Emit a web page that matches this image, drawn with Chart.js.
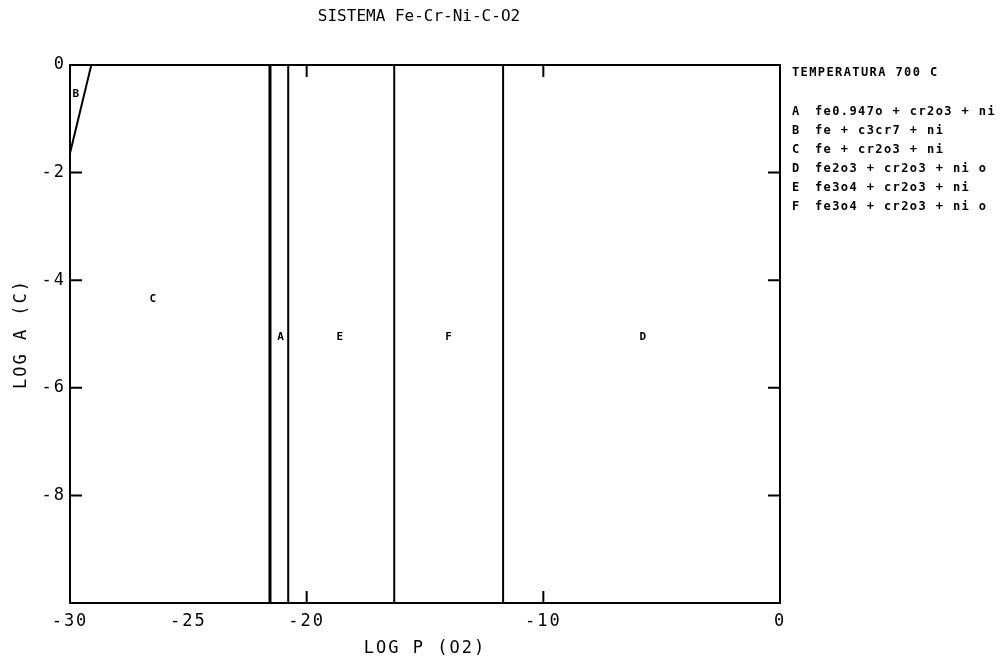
<!DOCTYPE html>
<html>
<head>
<meta charset="utf-8">
<script src="https://cdn.jsdelivr.net/npm/chart.js@4/dist/chart.umd.min.js"></script>
<style>
  body { margin: 0; background: #fff; }
  canvas { display: block; }
</style>
</head>
<body>
<canvas id="diagram" width="1002" height="664"></canvas>
<script>
// phase boundaries (log p O2), vertical lines over full height
const boundaryX = [-21.55, -20.78, -16.3, -11.7];
const boundaryWidth = [3, 2, 2, 2];
// sloped boundary of field B
const bLineX = [-29.1, -30];
const bLineY = [0, -1.64];
// field labels
const fieldNames = ['B', 'C', 'A', 'E', 'F', 'D'];
const fieldX = [-29.75, -26.5, -21.1, -18.6, -14.0, -5.8];
const fieldY = [-0.55, -4.35, -5.05, -5.05, -5.05, -5.05];
// axis ticks
const xTicks = [-30, -25, -20, -10, 0];
const yTicks = [0, -2, -4, -6, -8];
const xInward = [-20, -10];
const yInward = [-2, -4, -6, -8];
// legend
const legendTitle = 'TEMPERATURA 700 C';
const legendKeys = ['A', 'B', 'C', 'D', 'E', 'F'];
const legendTexts = [
  'fe0.947o + cr2o3 + ni',
  'fe + c3cr7 + ni',
  'fe + cr2o3 + ni',
  'fe2o3 + cr2o3 + ni o',
  'fe3o4 + cr2o3 + ni',
  'fe3o4 + cr2o3 + ni o'
];

const mono = 'DejaVu Sans Mono';

const datasets = boundaryX.map((v, i) => ({
  data: [{x: v, y: 0}, {x: v, y: -10}],
  borderColor: '#000',
  borderWidth: boundaryWidth[i],
  showLine: true,
  pointRadius: 0
}));
datasets.push({
  data: bLineX.map((v, i) => ({x: v, y: bLineY[i]})),
  borderColor: '#000',
  borderWidth: 2,
  showLine: true,
  pointRadius: 0
});

const decor = {
  id: 'decor',
  beforeDraw(chart) {
    // wide plotter-like spacing for axis text
    chart.ctx.letterSpacing = '2px';
  },
  afterDraw(chart) {
    const ctx = chart.ctx;
    const a = chart.chartArea;
    const xs = chart.scales.x, ys = chart.scales.y;
    ctx.save();
    ctx.strokeStyle = '#000';
    ctx.lineWidth = 2;
    ctx.strokeRect(a.left, a.top, a.right - a.left, a.bottom - a.top);
    // inward ticks
    ctx.beginPath();
    xInward.forEach(v => {
      const px = xs.getPixelForValue(v);
      ctx.moveTo(px, a.top); ctx.lineTo(px, a.top + 12);
      ctx.moveTo(px, a.bottom); ctx.lineTo(px, a.bottom - 12);
    });
    yInward.forEach(v => {
      const py = ys.getPixelForValue(v);
      ctx.moveTo(a.left, py); ctx.lineTo(a.left + 12, py);
      ctx.moveTo(a.right, py); ctx.lineTo(a.right - 12, py);
    });
    ctx.stroke();

    ctx.fillStyle = '#000';
    ctx.textBaseline = 'middle';
    // title
    ctx.letterSpacing = '0px';
    ctx.font = '16px "' + mono + '"';
    ctx.textAlign = 'center';
    ctx.fillText('SISTEMA Fe-Cr-Ni-C-O2', 419, 17);
    // field labels
    ctx.font = 'bold 11px "' + mono + '"';
    fieldNames.forEach((n, i) => {
      ctx.fillText(n, xs.getPixelForValue(fieldX[i]), ys.getPixelForValue(fieldY[i]));
    });
    // legend
    ctx.textAlign = 'left';
    ctx.letterSpacing = '1.4px';
    ctx.font = 'bold 12px "' + mono + '"';
    ctx.fillText(legendTitle, 792, 73);
    legendKeys.forEach((k, i) => {
      const y = 112 + i * 19;
      ctx.fillText(k, 792, y);
      ctx.fillText(legendTexts[i], 815, y);
    });
    ctx.restore();
  }
};

new Chart(document.getElementById('diagram'), {
  type: 'scatter',
  data: { datasets: datasets },
  options: {
    responsive: false,
    animation: false,
    layout: { padding: { top: 65, right: 222, left: 0, bottom: 0 } },
    plugins: { legend: { display: false }, tooltip: { enabled: false } },
    scales: {
      x: {
        type: 'linear',
        min: -30,
        max: 0,
        grid: { display: false, drawTicks: false },
        border: { display: false },
        afterBuildTicks: s => { s.ticks = xTicks.map(v => ({value: v})); },
        afterFit: s => { s.height = 61; },
        ticks: {
          autoSkip: false, maxRotation: 0, padding: 8, color: '#000',
          font: { family: mono, size: 17 }
        },
        title: {
          display: true, text: 'LOG P (O2)', color: '#000',
          font: { family: mono, size: 17 }, padding: { top: 0, bottom: 5 }
        }
      },
      y: {
        type: 'linear',
        min: -10,
        max: 0,
        grid: { display: false, drawTicks: false },
        border: { display: false },
        afterBuildTicks: s => { s.ticks = yTicks.map(v => ({value: v})); },
        afterFit: s => { s.width = 70; },
        ticks: {
          autoSkip: false, padding: 4, color: '#000',
          font: { family: mono, size: 17 }
        },
        title: {
          display: true, text: 'LOG A (C)', color: '#000',
          font: { family: mono, size: 17 }, padding: { top: 11, bottom: 0 }
        }
      }
    }
  },
  plugins: [decor]
});
</script>
</body>
</html>
